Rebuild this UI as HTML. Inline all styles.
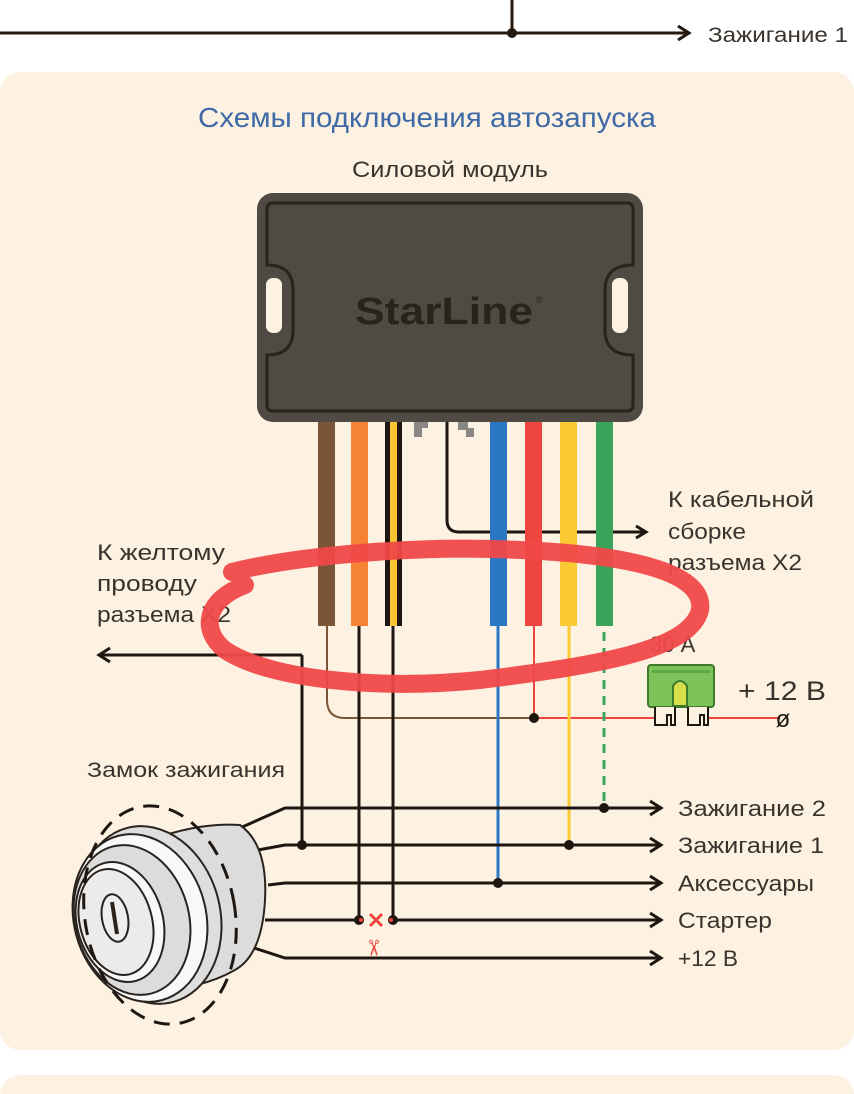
<!DOCTYPE html>
<html><head><meta charset="utf-8"><style>
html,body{margin:0;padding:0;background:#fff;}
svg{display:block;font-family:"Liberation Sans",sans-serif;}
</style></head><body>
<svg width="854" height="1094" viewBox="0 0 854 1094" xmlns="http://www.w3.org/2000/svg">
<rect width="854" height="1094" fill="#fff"/>
<line x1="512" y1="0" x2="512" y2="33" stroke="#241a12" stroke-width="3"/>
<line x1="0" y1="33" x2="688" y2="33" stroke="#241a12" stroke-width="3"/>
<path d="M678 26 L689 33 L678 40" fill="none" stroke="#241a12" stroke-width="3"/>
<circle cx="512" cy="33" r="5" fill="#241a12"/>
<text x="708" y="42" font-size="21" fill="#3a332d" textLength="140" lengthAdjust="spacingAndGlyphs">Зажигание 1</text>
<rect x="0" y="72" width="854" height="978" rx="20" fill="#fdf2e2"/>
<rect x="0" y="1075" width="854" height="60" rx="20" fill="#fdf2e2"/>
<text x="427" y="127" font-size="28" fill="#3f6aa6" text-anchor="middle" textLength="458" lengthAdjust="spacingAndGlyphs">Схемы подключения автозапуска</text>
<text x="450" y="177" font-size="22" fill="#3a332d" text-anchor="middle" textLength="196" lengthAdjust="spacingAndGlyphs">Силовой модуль</text>
<rect x="257" y="193" width="386" height="229" rx="16" fill="#4f4a44"/>
<path d="M273 203 H627 Q633 203 633 209 V265 Q605 265 605 290 V330 Q605 355 633 355 V405 Q633 411 627 411 H273 Q267 411 267 405 V355 Q293 355 293 330 V290 Q293 265 267 265 V209 Q267 203 273 203 Z" fill="none" stroke="#2a231d" stroke-width="3"/>
<rect x="266" y="278" width="16" height="55" rx="7" fill="#fdf2e2"/>
<rect x="612" y="278" width="16" height="55" rx="7" fill="#fdf2e2"/>
<text x="355" y="324" font-size="38" font-weight="bold" fill="#2a231d" textLength="178" lengthAdjust="spacingAndGlyphs">StarLine</text>
<text x="536" y="303" font-size="9" fill="#2a231d">®</text>
<path d="M418 422 h10 v6 h-6 v9 h-8 v-15z" fill="#8a8885"/>
<path d="M458 422 h10 v6 h6 v9 h-8 v-7 h-8z" fill="#8a8885"/>
<path d="M447 422 V520 Q447 532 459 532 H645" fill="none" stroke="#1e1610" stroke-width="3"/>
<path d="M636 526 L646 532 L636 538" fill="none" stroke="#1e1610" stroke-width="3"/>
<rect x="318" y="422" width="17" height="204" fill="#7a5538"/>
<rect x="351" y="422" width="17" height="204" fill="#f58235"/>
<rect x="385" y="422" width="17" height="204" fill="#1e1610"/>
<rect x="390" y="422" width="7" height="204" fill="#f9c632"/>
<rect x="490" y="422" width="17" height="204" fill="#2a78c4"/>
<rect x="525" y="422" width="17" height="204" fill="#ee4540"/>
<rect x="560" y="422" width="17" height="204" fill="#fbc933"/>
<rect x="596" y="422" width="17" height="204" fill="#3aa45a"/>
<path d="M327 626 V700 Q327 718 345 718 H534" fill="none" stroke="#7a5538" stroke-width="2"/>
<line x1="359" y1="626" x2="359" y2="920" stroke="#1e1610" stroke-width="3"/>
<line x1="393" y1="626" x2="393" y2="920" stroke="#1e1610" stroke-width="3"/>
<line x1="498" y1="626" x2="498" y2="883" stroke="#2a78c4" stroke-width="3"/>
<line x1="534" y1="626" x2="534" y2="718" stroke="#ee4540" stroke-width="2"/>
<line x1="534" y1="718" x2="655" y2="718" stroke="#ee4540" stroke-width="2"/>
<line x1="705" y1="718" x2="780" y2="718" stroke="#ee4540" stroke-width="2"/>
<line x1="569" y1="626" x2="569" y2="845" stroke="#fbc933" stroke-width="3"/>
<line x1="604" y1="632" x2="604" y2="808" stroke="#3aa45a" stroke-width="3" stroke-dasharray="9,7"/>
<circle cx="534" cy="718" r="5" fill="#1e1610"/>
<line x1="302" y1="655" x2="302" y2="845" stroke="#1e1610" stroke-width="3"/>
<line x1="100" y1="655" x2="302" y2="655" stroke="#1e1610" stroke-width="3"/>
<path d="M110 648 L99 655 L110 662" fill="none" stroke="#1e1610" stroke-width="3"/>
<rect x="648" y="665" width="66" height="42" rx="3" fill="#7cc35a" stroke="#3d7a2a" stroke-width="2"/>
<rect x="652" y="670" width="58" height="3" fill="#5ea845"/>
<path d="M673 706 V686 Q680 676 687 686 V706 Z" fill="#d7e04a" stroke="#3d7a2a" stroke-width="2"/>
<path d="M655 707 v18 h12 v-10 h4 v10 h4 v-18" fill="#fdf2e2" stroke="#1e1610" stroke-width="2"/>
<path d="M688 707 v18 h12 v-10 h4 v10 h4 v-18" fill="#fdf2e2" stroke="#1e1610" stroke-width="2"/>
<text x="783" y="727" font-size="24" fill="#1e1610" text-anchor="middle">ø</text>
<text x="650" y="652" font-size="22" fill="#3a332d">30 А</text>
<text x="738" y="700" font-size="27" fill="#3a332d" textLength="88" lengthAdjust="spacingAndGlyphs">+ 12 В</text>
<g font-size="22" fill="#3a332d">
<text x="668" y="507" textLength="146" lengthAdjust="spacingAndGlyphs">К кабельной</text>
<text x="668" y="539" textLength="78" lengthAdjust="spacingAndGlyphs">сборке</text>
<text x="668" y="570" textLength="134" lengthAdjust="spacingAndGlyphs">разъема Х2</text>
<text x="97" y="560" textLength="128" lengthAdjust="spacingAndGlyphs">К желтому</text>
<text x="97" y="591" textLength="100" lengthAdjust="spacingAndGlyphs">проводу</text>
<text x="97" y="622" textLength="134" lengthAdjust="spacingAndGlyphs">разъема Х2</text>
<text x="678" y="816" textLength="148" lengthAdjust="spacingAndGlyphs">Зажигание 2</text>
<text x="678" y="853" textLength="146" lengthAdjust="spacingAndGlyphs">Зажигание 1</text>
<text x="678" y="891" textLength="136" lengthAdjust="spacingAndGlyphs">Аксессуары</text>
<text x="678" y="928" textLength="94" lengthAdjust="spacingAndGlyphs">Стартер</text>
<text x="678" y="966" textLength="60" lengthAdjust="spacingAndGlyphs">+12 В</text>
</g>
<text x="87" y="777" font-size="21" fill="#3a332d" textLength="198" lengthAdjust="spacingAndGlyphs">Замок зажигания</text>
<g stroke="#1e1610" stroke-width="3" fill="none">
<path d="M240 828 L285 808 H660"/>
<path d="M258 850 L285 845 H660"/>
<path d="M268 885 L285 883 H660"/>
<path d="M265 920 H355"/><path d="M397 920 H660"/>
<path d="M245 945 L285 958 H660"/>
<path d="M650 801 L661 808 L650 815"/>
<path d="M650 838 L661 845 L650 852"/>
<path d="M650 876 L661 883 L650 890"/>
<path d="M650 913 L661 920 L650 927"/>
<path d="M650 951 L661 958 L650 965"/>
</g>
<circle cx="604" cy="808" r="5" fill="#1e1610"/>
<circle cx="569" cy="845" r="5" fill="#1e1610"/>
<circle cx="302" cy="845" r="5" fill="#1e1610"/>
<circle cx="498" cy="883" r="5" fill="#1e1610"/>
<circle cx="359" cy="920" r="5" fill="#1e1610"/>
<circle cx="393" cy="920" r="5" fill="#1e1610"/>
<circle cx="361" cy="920" r="2" fill="#ee4540"/>
<circle cx="391" cy="920" r="2" fill="#ee4540"/>
<path d="M370 914 L382 926 M382 914 L370 926" stroke="#ee4540" stroke-width="3"/>
<text x="376" y="958" font-size="22" fill="#ee4540" text-anchor="middle" transform="rotate(90 376 948)">✂</text>
<g stroke="#2a231d" stroke-width="2">
<path d="M150 840 Q200 822 240 825 Q268 845 265 900 Q262 955 235 970 Q200 990 150 990 Z" fill="#dcdcdc"/>
<ellipse cx="150" cy="915" rx="70" ry="90" fill="#dedede" transform="rotate(-15 150 915)"/>
<ellipse cx="140" cy="918" rx="66" ry="85" fill="#f8f8f8" transform="rotate(-15 140 918)"/>
<ellipse cx="132" cy="920" rx="57" ry="76" fill="#dcdcdc" transform="rotate(-15 132 920)"/>
<ellipse cx="120" cy="922" rx="43" ry="61" fill="#f8f8f8" transform="rotate(-15 120 922)"/>
<ellipse cx="116" cy="922" rx="36" ry="54" fill="#ebebeb" transform="rotate(-15 116 922)"/>
<ellipse cx="115" cy="918" rx="13" ry="24" fill="#eee" transform="rotate(-10 115 918)"/>
<line x1="112" y1="902" x2="117" y2="934" stroke-width="4"/>
</g>
<ellipse cx="160" cy="915" rx="75" ry="110" fill="none" stroke="#1e1610" stroke-width="3" stroke-dasharray="16,10" transform="rotate(-10 160 915)"/>
<path d="M232 572 C300 555 420 545 520 550 C640 555 705 575 700 610 C690 650 600 665 480 680 C380 690 270 680 225 650 C200 630 205 600 245 585" fill="none" stroke="#f04848" stroke-width="18" stroke-linecap="round" opacity="0.95"/>
</svg>
</body></html>
